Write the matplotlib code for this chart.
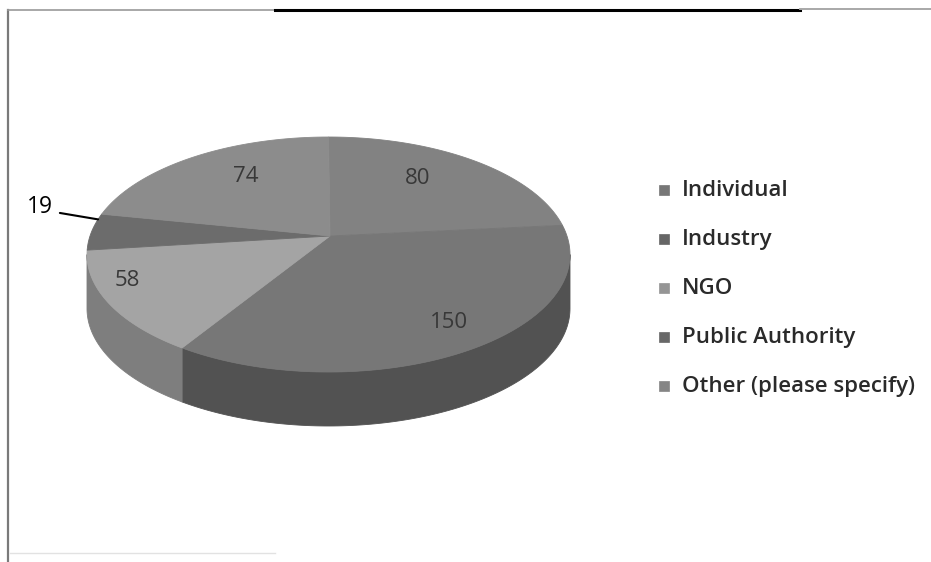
import matplotlib

matplotlib.use("Agg")
import matplotlib.pyplot as plt  # noqa: E402
import numpy as np  # noqa: E402
from matplotlib.patches import Polygon, Rectangle  # noqa: E402

# respondent type -> count, clockwise from 12 o'clock
categories = ["Individual", "Industry", "NGO", "Public Authority", "Other (please specify)"]
counts = [80, 150, 58, 19, 74]

TOP_COLORS = ["#828282", "#777777", "#a4a4a4", "#6c6c6c", "#8c8c8c"]
SIDE_COLORS = ["#5e5e5e", "#525252", "#7e7e7e", "#4e4e4e", "#666666"]
KEY_COLORS = ["#777777", "#666666", "#959595", "#686868", "#858585"]
LABEL_R = [0.60, 0.90, 0.92, None, 0.60]  # how far out each value label sits
LABEL_LIFT = 20  # labels ride a little above the flat projection

# pie geometry in pixel space (y grows downward)
CX, CY = 328.5, 254.5
RX, RY = 241.5, 117.5
DEPTH = 54
APEX = (330.0, 236.0)
FONT = "Open Sans"


def rim(t0, t1, n=120, drop=0.0):
    t = np.radians(np.linspace(t0, t1, n))
    return np.column_stack([CX + RX * np.cos(t), CY - RY * np.sin(t) + drop])


fracs = np.array(counts, dtype=float) / sum(counts)
ends = 90.0 - 360.0 * np.cumsum(fracs)
starts = ends + 360.0 * fracs

fig = plt.figure(figsize=(9.31, 5.62), dpi=100)
ax = fig.add_axes([0, 0, 1, 1])
ax.set_xlim(0, 931)
ax.set_ylim(562, 0)
ax.axis("off")

# side walls: only the front half (-180..0 deg) shows
for s, e, col in zip(starts, ends, SIDE_COLORS):
    a, b = max(e, -180.0), min(s, 0.0)
    if a >= b:
        continue
    top = rim(b, a)
    bottom = rim(a, b, drop=DEPTH)
    ax.add_patch(Polygon(np.vstack([top, bottom]), closed=True, fc=col, ec=col, lw=0.6))

# top faces
for s, e, col in zip(starts, ends, TOP_COLORS):
    pts = np.vstack([[APEX], rim(s, e)])
    ax.add_patch(Polygon(pts, closed=True, fc=col, ec=col, lw=0.6))

# value labels
for s, e, v, r in zip(starts, ends, counts, LABEL_R):
    if r is None:
        continue
    m = np.radians((s + e) / 2)
    lx = CX + r * RX * np.cos(m)
    ly = CY - r * RY * np.sin(m) - LABEL_LIFT
    ax.text(lx, ly, str(v), ha="center", va="center", fontsize=16,
            color="#383838", family=FONT)

# the thin slice gets an outside label with a leader line
k = 3
lead = np.radians(ends[k] + 0.15 * (starts[k] - ends[k]))
ax.annotate(str(counts[k]), xy=(CX + RX * np.cos(lead), CY - RY * np.sin(lead)),
            xytext=(40, 207), ha="center", va="center", fontsize=16.5,
            color="black", family=FONT,
            arrowprops=dict(arrowstyle="-", color="black", lw=1.5,
                            relpos=(1.0, 0.3), shrinkA=3, shrinkB=0))

# legend
for i, (name, col) in enumerate(zip(categories, KEY_COLORS)):
    y = 190 + i * 49.2
    ax.add_patch(Rectangle((659, y - 5.5), 10, 10, fc=col, ec=col, lw=0.5))
    ax.text(682, y, name, ha="left", va="center", fontsize=16,
            fontweight="semibold", color="#2a2a2a", family=FONT)

# frame edges
ax.plot([8, 8], [10, 562], color="#7a7a7a", lw=1.6)
ax.plot([8, 275], [10, 10], color="#9a9a9a", lw=1.2)
ax.plot([275, 800], [10, 10], color="black", lw=2.2)
ax.plot([800, 931], [9, 9], color="#a8a8a8", lw=1.4)
ax.plot([10, 275], [553, 553], color="#e2e2e2", lw=1.0)

fig.savefig("out.png", dpi=100)
